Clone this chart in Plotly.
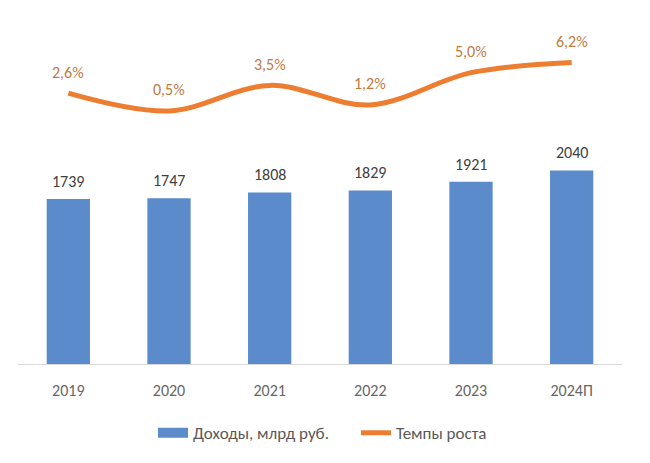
import plotly.graph_objects as go

years = ["2019", "2020", "2021", "2022", "2023", "2024П"]
income = [1739, 1747, 1808, 1829, 1921, 2040]
growth = [2.6, 0.5, 3.5, 1.2, 5.0, 6.2]
growth_labels = ["2,6%", "0,5%", "3,5%", "1,2%", "5,0%", "6,2%"]

FONT = "Carlito, Calibri, Lato, 'Open Sans', sans-serif"
BLUE = "#5B8BCB"
ORANGE = "#ED7D31"

fig = go.Figure()
fig.add_trace(go.Bar(
    x=years, y=income, name="Доходы, млрд руб.",
    marker=dict(color=BLUE, line=dict(width=0)),
    yaxis="y", showlegend=False,
))
# legend entry drawn as a wide rectangle, like the reference
fig.add_trace(go.Scatter(
    x=[None], y=[None], name="Доходы, млрд руб.", mode="lines",
    line=dict(color=BLUE, width=10), yaxis="y",
))
fig.add_trace(go.Scatter(
    x=years, y=growth, name="Темпы роста", mode="lines",
    line=dict(color=ORANGE, width=5, shape="spline", smoothing=1.0),
    yaxis="y2",
))

annotations = []
for i, v in enumerate(income):
    annotations.append(dict(x=i, y=v, xref="x", yref="y", text=str(v),
                            showarrow=False, yanchor="bottom", yshift=6,
                            font=dict(size=16, color="#404040", family=FONT)))
for i, (v, t) in enumerate(zip(growth, growth_labels)):
    annotations.append(dict(x=i, y=v, xref="x", yref="y2", text=t,
                            showarrow=False, yanchor="middle", yshift=21,
                            font=dict(size=16, color="#C07A42", family=FONT)))

fig.update_layout(
    width=650, height=463,
    margin=dict(l=18, r=28, t=20, b=95),
    paper_bgcolor="white", plot_bgcolor="white",
    bargap=0.57,
    font=dict(family=FONT, color="#595959"),
    xaxis=dict(type="category", categoryorder="array", categoryarray=years,
               range=[-0.5, len(years) - 0.5],
               showgrid=False, showline=True, linecolor="#D9D9D9",
               linewidth=1, ticks="", tickfont=dict(size=16, color="#666666"),
               ticklabelstandoff=12),
    yaxis=dict(range=[0, 3625], visible=False, showgrid=False),
    yaxis2=dict(range=[-29.3, 11.2], overlaying="y", side="right", visible=False,
                showgrid=False),
    showlegend=True,
    legend=dict(orientation="h", x=0.2235, xanchor="left", y=-0.201, yanchor="middle",
                font=dict(size=17, color="#595959", family=FONT),
                traceorder="normal", itemwidth=30, entrywidth=158,
                entrywidthmode="pixels"),
    annotations=annotations,
)

fig.write_html("out.html")
